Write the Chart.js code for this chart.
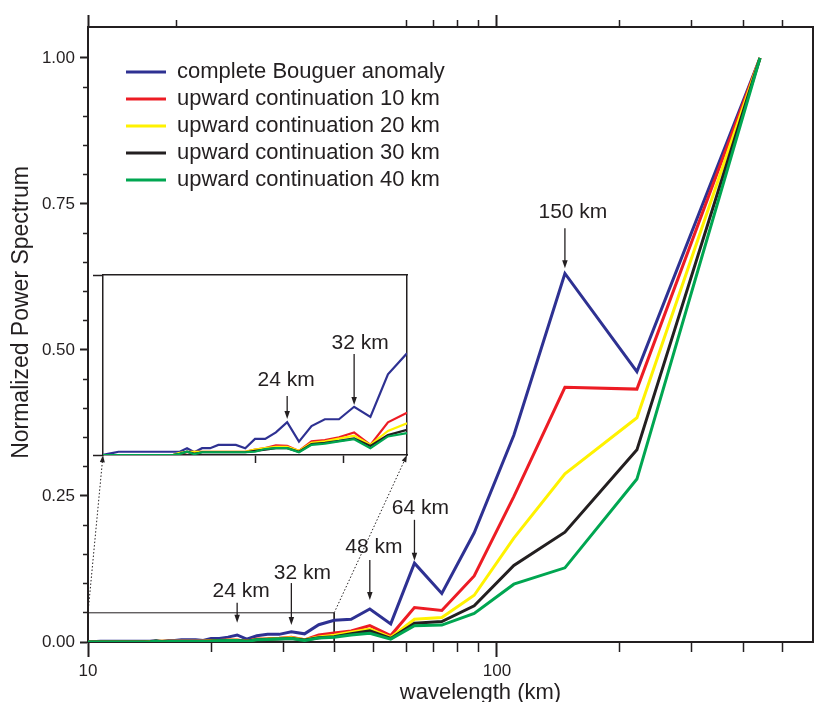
<!DOCTYPE html>
<html>
<head>
<meta charset="utf-8">
<script src="https://cdn.jsdelivr.net/npm/chart.js@4.4.0/dist/chart.umd.min.js"></script>
<style>
  html, body { margin: 0; padding: 0; background: #fff; overflow: hidden; }
  #wrap { position: relative; width: 815px; height: 702px; overflow: hidden; }
  #wrap canvas { position: absolute; left: 0; top: 0; }
</style>
</head>
<body>
<div id="wrap">
  <canvas id="spectrum" width="815" height="720"></canvas>
  <canvas id="inset" width="815" height="720"></canvas>
</div>
<script>
// wavelengths of the spectrum estimates (km)
const wavelengths = [10.0, 10.23, 10.48, 10.73, 11.0, 11.28, 11.58, 11.89, 12.22, 12.57, 12.94, 13.33, 13.75, 14.19, 14.67,
  15.17, 15.71, 16.3, 16.92, 17.6, 18.33, 19.13, 20.0, 20.95, 22.0, 23.16, 24.44, 25.88, 27.5, 29.33, 31.43, 33.85,
  36.67, 40.0, 44.0, 48.89, 55.0, 62.86, 73.33, 88.0, 110.0, 146.67, 220.0, 440.0];

const bouguer = [0, 0.0004, 0.0008, 0.0012, 0.0012, 0.0012, 0.0012, 0.0012, 0.0012, 0.0012, 0.0012, 0.0012, 0.0012, 0.0012, 0.0025,
  0.001, 0.0025, 0.0025, 0.0037, 0.0037, 0.0037, 0.0025, 0.0059, 0.0059, 0.0083, 0.012, 0.0049, 0.0106, 0.0131, 0.0131, 0.0177, 0.014,
  0.0296, 0.0373, 0.039, 0.0565, 0.031, 0.135, 0.083, 0.187, 0.354, 0.631, 0.463, 1.0];
const up10 = [0, 0, 0, 0, 0, 0, 0, 0, 0, 0, 0, 0, 0, 0.0005, 0.001,
  0.0012, 0.0012, 0.0012, 0.0012, 0.0012, 0.0012, 0.0012, 0.002, 0.0025, 0.0035, 0.0034, 0.0015, 0.005, 0.0055, 0.0065, 0.0083, 0.0037,
  0.012, 0.0155, 0.019, 0.028, 0.011, 0.059, 0.054, 0.113, 0.249, 0.436, 0.433, 1.0];
const up20 = [0, 0, 0, 0, 0, 0, 0, 0, 0, 0, 0, 0, 0, 0.0008, 0.0012,
  0.0012, 0.0012, 0.0012, 0.0012, 0.0012, 0.0012, 0.0012, 0.002, 0.0025, 0.003, 0.003, 0.0015, 0.0045, 0.005, 0.006, 0.0071, 0.0037,
  0.0088, 0.0116, 0.0166, 0.022, 0.008, 0.039, 0.042, 0.08, 0.178, 0.288, 0.384, 1.0];
const up30 = [0, 0, 0, 0, 0, 0, 0, 0, 0, 0, 0, 0, 0, 0.0004, 0.0012,
  0.0004, 0.001, 0.001, 0.001, 0.001, 0.001, 0.001, 0.0015, 0.002, 0.0025, 0.0025, 0.0012, 0.004, 0.0045, 0.0052, 0.0061, 0.0033,
  0.0073, 0.0092, 0.014, 0.019, 0.006, 0.032, 0.035, 0.062, 0.131, 0.188, 0.329, 1.0];
const up40 = [0, 0, 0, 0, 0, 0, 0, 0, 0, 0, 0, 0, 0, 0.0004, 0.0012,
  0.0003, 0.001, 0.001, 0.001, 0.001, 0.001, 0.001, 0.0012, 0.0022, 0.0025, 0.0025, 0.001, 0.0037, 0.0042, 0.005, 0.0058, 0.0025,
  0.0068, 0.008, 0.012, 0.015, 0.005, 0.028, 0.029, 0.049, 0.099, 0.127, 0.279, 1.0];

const seriesNames = ['complete Bouguer anomaly', 'upward continuation 10 km', 'upward continuation 20 km',
  'upward continuation 30 km', 'upward continuation 40 km'];
const seriesValues = [bouguer, up10, up20, up30, up40];
const seriesColors = ['#2e3192', '#ed1c24', '#fff200', '#231f20', '#00a651'];

// axis ticks
const xTicks = [10, 20, 30, 40, 50, 60, 70, 80, 90, 100, 200, 300, 400, 500];
const xTopTicks = [10, 16.5, 60, 70, 80, 90, 100, 200, 300, 400, 500];
const xMajor = [10, 100];
const yTicks = [0, 0.05, 0.1, 0.15, 0.2, 0.25, 0.3, 0.35, 0.4, 0.45, 0.5, 0.55, 0.6, 0.65, 0.7, 0.75, 0.8, 0.85, 0.9, 0.95, 1.0];
const yMajor = [0, 0.25, 0.5, 0.75, 1.0];
const insetXTicks = [20, 30];
const insetYTicks = [0, 0.066];

// zoom window shown in the inset
const zoomX = [10, 40, 40];
const zoomY = [0.05, 0.05, 0];

const ink = '#231f20';
const font = "'Liberation Sans', Arial, Helvetica, sans-serif";
Chart.defaults.font.family = font;
Chart.defaults.color = ink;

const isIn = (list, v) => list.some(m => Math.abs(m - v) < 1e-9);

// ticks: long for majors, short (dashed away) for minors
function tickGrid(majors, full, minor, farFirst) {
  return {
    drawOnChartArea: false,
    tickLength: full,
    tickColor: ink,
    tickWidth: c => (c.tick && isIn(majors, c.tick.value)) ? 2 : 1.5,
    tickBorderDash: c => (c.tick && isIn(majors, c.tick.value)) ? [] :
      (farFirst ? [0, full - minor, minor, 200] : [minor, 200])
  };
}

function arrowHead(ctx, x, y, ang, size) {
  ctx.save();
  ctx.translate(x, y);
  ctx.rotate(ang);
  ctx.beginPath();
  ctx.moveTo(0, 0);
  ctx.lineTo(-size * 1.6, -size * 0.55);
  ctx.lineTo(-size * 1.6, size * 0.55);
  ctx.closePath();
  ctx.fill();
  ctx.restore();
}

const peakLabels = {
  id: 'peakLabels',
  afterDraw(chart, args, opts) {
    const {ctx, scales} = chart;
    ctx.save();
    ctx.fillStyle = ink;
    ctx.strokeStyle = ink;
    ctx.lineWidth = 1.3;
    ctx.font = '21px ' + font;
    ctx.textAlign = 'center';
    ctx.textBaseline = 'middle';
    opts.items.forEach(p => {
      const px = scales.x.getPixelForValue(p.x);
      const py = scales.y.getPixelForValue(p.y);
      ctx.beginPath();
      ctx.moveTo(px, py - p.len);
      ctx.lineTo(px, py - 6);
      ctx.stroke();
      arrowHead(ctx, px, py, Math.PI / 2, 5);
      ctx.fillText(p.text, px + p.dx, py - p.len - p.dy);
    });
    ctx.restore();
  }
};

const legendPlace = {
  id: 'legendPlace',
  beforeDraw(chart, args, opts) {
    if (chart.legend) {
      chart.legend.left = opts.left;
      chart.legend.top = opts.top;
    }
  }
};

// the axis titles sit a little off the axis centre in the original
const titleShift = {
  id: 'titleShift',
  afterLayout(chart, args, opts) {
    Object.keys(opts).forEach(id => {
      const s = chart.scales[id];
      const d = opts[id];
      if (!s || !Array.isArray(d) || s._titleShifted) return;
      const draw = s.drawTitle.bind(s);
      s.drawTitle = () => {
        s.ctx.save();
        s.ctx.translate(d[0], d[1]);
        draw();
        s.ctx.restore();
      };
      s._titleShifted = true;
    });
  }
};

const mainChart = new Chart(document.getElementById('spectrum'), {
  type: 'line',
  data: {
    datasets: seriesNames.map((name, i) => ({
      label: name,
      data: wavelengths.map((w, k) => ({x: w, y: seriesValues[i][k]})),
      borderColor: seriesColors[i],
      backgroundColor: seriesColors[i],
      borderWidth: 3,
      pointRadius: 0,
      tension: 0,
      order: 5 - i
    })).concat([{
      label: 'zoom',
      data: zoomX.map((x, k) => ({x: x, y: zoomY[k]})),
      borderColor: ink,
      borderWidth: 1,
      pointRadius: 0,
      order: 10
    }])
  },
  options: {
    responsive: false,
    animation: false,
    layout: {padding: {left: 0, top: 0, right: 2, bottom: 0}},
    scales: {
      x: {
        type: 'logarithmic', position: 'bottom', min: 10, max: 593,
        afterBuildTicks: s => { s.ticks = xTicks.map(v => ({value: v})); },
        afterFit: s => { s.height = 78; },
        ticks: {autoSkip: false, maxRotation: 0, padding: 4, font: {size: 17},
          callback: v => isIn(xMajor, v) ? String(v) : ''},
        grid: tickGrid(xMajor, 15, 9, false),
        border: {color: ink, width: 2},
        title: {display: true, text: 'wavelength (km)', font: {size: 22}, padding: {bottom: 14}}
      },
      x2: {
        type: 'logarithmic', position: 'top', min: 10, max: 593,
        afterBuildTicks: s => { s.ticks = xTopTicks.map(v => ({value: v})); },
        afterFit: s => { s.height = 27; },
        ticks: {display: false, autoSkip: false},
        grid: tickGrid(xMajor, 12, 7, true),
        border: {color: ink, width: 2}
      },
      y: {
        type: 'linear', position: 'left', min: 0, max: 1.053,
        afterBuildTicks: s => { s.ticks = yTicks.map(v => ({value: v})); },
        afterFit: s => { s.width = 88; },
        ticks: {autoSkip: false, padding: 5, font: {size: 17},
          callback: v => isIn(yMajor, v) ? v.toFixed(2) : ''},
        grid: tickGrid(yMajor, 8, 5, true),
        border: {color: ink, width: 2},
        title: {display: true, text: 'Normalized Power Spectrum', font: {size: 23}, padding: {top: 8}}
      },
      y2: {
        type: 'linear', position: 'right', min: 0, max: 1.053,
        afterFit: s => { s.width = 0; },
        ticks: {display: false},
        grid: {display: false},
        border: {color: ink, width: 2}
      }
    },
    plugins: {
      legend: {
        position: 'chartArea', align: 'start',
        labels: {
          font: {size: 22}, color: ink, boxWidth: 40, boxHeight: 3, padding: 5,
          filter: item => item.datasetIndex < 5,
          sort: (a, b) => a.datasetIndex - b.datasetIndex,
          generateLabels: chart => Chart.defaults.plugins.legend.labels.generateLabels(chart)
            .map(l => Object.assign(l, {lineWidth: 0, fillStyle: seriesColors[l.datasetIndex] || ink}))
        }
      },
      legendPlace: {left: 121, top: 56},
      titleShift: {x: [30, 0], y: [0, -22]},
      tooltip: {enabled: false},
      peakLabels: {items: [
        {text: '150 km', x: 146.67, y: 0.640, len: 40, dx: 8, dy: 16},
        {text: '64 km', x: 62.86, y: 0.139, len: 41, dx: 6, dy: 12},
        {text: '48 km', x: 48.89, y: 0.072, len: 40, dx: 4, dy: 13},
        {text: '32 km', x: 31.43, y: 0.029, len: 42, dx: 11, dy: 10},
        {text: '24 km', x: 23.16, y: 0.033, len: 20, dx: 4, dy: 12}
      ]}
    }
  },
  plugins: [peakLabels, legendPlace, titleShift]
});

// dotted leaders from the zoom window to the inset corners
const leaders = {
  id: 'leaders',
  afterDraw(chart) {
    const {ctx, chartArea} = chart;
    const mx = mainChart.scales.x, my = mainChart.scales.y;
    const pairs = [
      [mx.getPixelForValue(zoomX[0]), my.getPixelForValue(zoomY[0]), chartArea.left, chartArea.bottom],
      [mx.getPixelForValue(zoomX[1]), my.getPixelForValue(zoomY[1]), chartArea.right, chartArea.bottom]
    ];
    ctx.save();
    ctx.strokeStyle = ink;
    ctx.fillStyle = ink;
    ctx.lineWidth = 1;
    pairs.forEach(([x0, y0, x1, y1]) => {
      const ang = Math.atan2(y1 - y0, x1 - x0);
      ctx.setLineDash([1.5, 2]);
      ctx.beginPath();
      ctx.moveTo(x0, y0);
      ctx.lineTo(x1 - 7 * Math.cos(ang), y1 - 7 * Math.sin(ang));
      ctx.stroke();
      ctx.setLineDash([]);
      arrowHead(ctx, x1, y1, ang, 4.5);
    });
    ctx.restore();
  }
};

new Chart(document.getElementById('inset'), {
  type: 'line',
  data: {
    datasets: seriesNames.map((name, i) => ({
      label: name,
      data: wavelengths.map((w, k) => ({x: w, y: seriesValues[i][k]})),
      borderColor: seriesColors[i],
      borderWidth: 2.2,
      pointRadius: 0,
      tension: 0,
      order: 5 - i
    }))
  },
  options: {
    responsive: false,
    animation: false,
    layout: {padding: {left: 93, top: 275, right: 408, bottom: 255}},
    scales: {
      x: {
        type: 'logarithmic', position: 'bottom', min: 10, max: 40,
        afterBuildTicks: s => { s.ticks = insetXTicks.map(v => ({value: v})); },
        afterFit: s => { s.height = 10; },
        ticks: {display: false},
        grid: {drawOnChartArea: false, tickLength: 8, tickColor: ink, tickWidth: 1.5},
        border: {color: ink, width: 1.5}
      },
      x2: {
        type: 'logarithmic', position: 'top', min: 10, max: 40,
        afterFit: s => { s.height = 0; },
        ticks: {display: false},
        grid: {display: false},
        border: {color: ink, width: 1.5}
      },
      y: {
        type: 'linear', position: 'left', min: 0, max: 0.066,
        afterBuildTicks: s => { s.ticks = insetYTicks.map(v => ({value: v})); },
        afterFit: s => { s.width = 10; },
        ticks: {display: false},
        grid: {drawOnChartArea: false, tickLength: 10, tickColor: ink, tickWidth: 1.5},
        border: {color: ink, width: 1.5}
      },
      y2: {
        type: 'linear', position: 'right', min: 0, max: 0.066,
        afterFit: s => { s.width = 0; },
        ticks: {display: false},
        grid: {display: false},
        border: {color: ink, width: 1.5}
      }
    },
    plugins: {
      legend: {display: false},
      tooltip: {enabled: false},
      peakLabels: {items: [
        {text: '24 km', x: 23.16, y: 0.0132, len: 23, dx: -1, dy: 16},
        {text: '32 km', x: 31.43, y: 0.0183, len: 51, dx: 6, dy: 11}
      ]}
    }
  },
  plugins: [peakLabels, leaders]
});
</script>
</body>
</html>
